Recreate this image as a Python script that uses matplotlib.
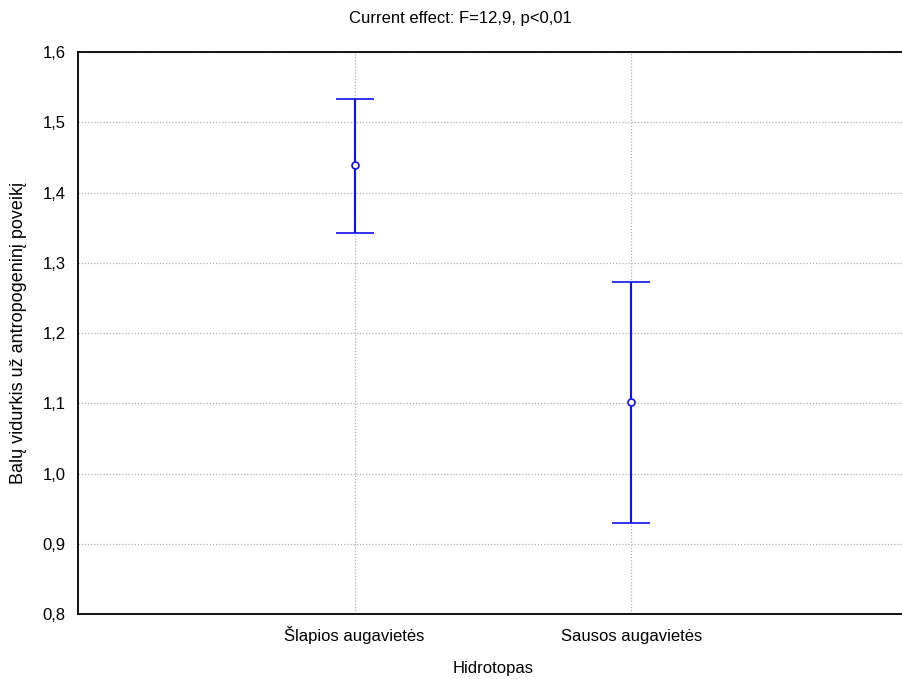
import matplotlib
matplotlib.use("Agg")
import matplotlib.pyplot as plt
from matplotlib.ticker import FuncFormatter

categories = ["Šlapios augavietės", "Sausos augavietės"]
means = [1.439, 1.102]
upper = [1.533, 1.273]
lower = [1.342, 0.930]
yticks = [0.8, 0.9, 1.0, 1.1, 1.2, 1.3, 1.4, 1.5, 1.6]

plt.rcParams['font.family'] = ['Liberation Sans', 'DejaVu Sans']
FS = 12

fig = plt.figure(figsize=(9.02, 6.79), dpi=100)
ax = fig.add_axes([78/902, 1-614/679, (908-78)/902, (614-52)/679])

x = [1, 2]
yerr = [[m - l for m, l in zip(means, lower)], [u - m for m, u in zip(means, upper)]]
ax.errorbar(x, means, yerr=yerr, fmt='o', color='#1010f0', ecolor='#1010f0',
            elinewidth=1.5, capsize=14, capthick=1.5, markersize=5,
            markerfacecolor='white', markeredgecolor='#1010f0', markeredgewidth=1.2, zorder=3)

ax.set_xlim(0, 3)
ax.set_ylim(0.8, 1.6)
ax.set_xticks(x)
ax.set_xticklabels(categories, fontsize=FS, va='baseline')
ax.set_yticks(yticks)
ax.yaxis.set_major_formatter(FuncFormatter(lambda v, p: f"{v:.1f}".replace('.', ',')))
ax.tick_params(axis='both', length=0, labelsize=FS)
ax.tick_params(axis='x', pad=19.5)
ax.tick_params(axis='y', pad=9)
ax.grid(True, color='#b0b0b0', linestyle=(0, (1, 1.5)), linewidth=0.9)
for s in ax.spines.values():
    s.set_linewidth(1.3)
    s.set_color('black')

fig.text(493/902, 1-668/679, "Hidrotopas", ha='center', va='center', fontsize=FS)
ax.set_ylabel("Balų vidurkis už antropogeninį poveikį", fontsize=13, labelpad=11)
fig.text(460/902, 1-18/679, "Current effect: F=12,9, p<0,01", ha='center', va='center', fontsize=FS)

fig.savefig("out.png", dpi=100)
